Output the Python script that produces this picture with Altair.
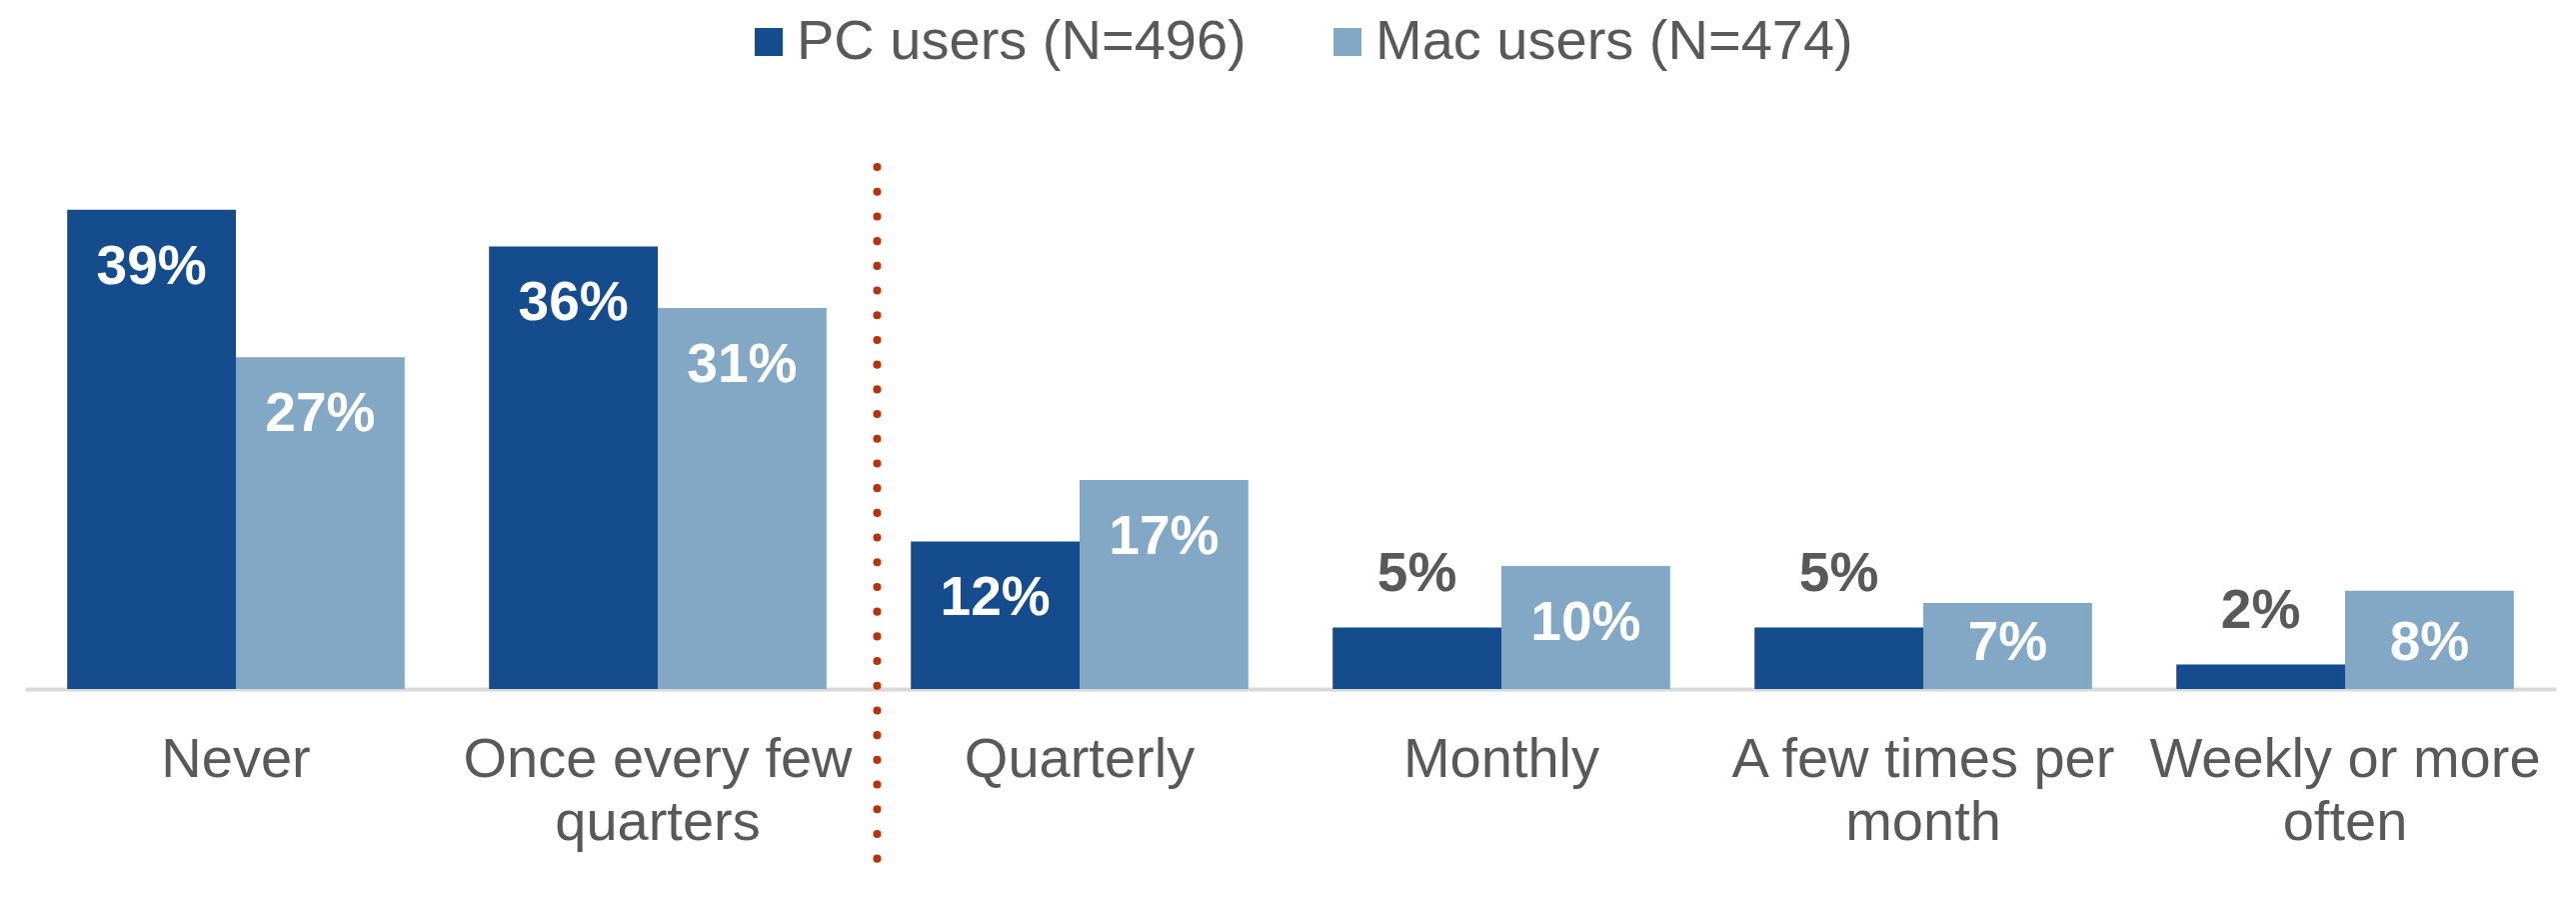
import altair as alt
import pandas as pd

categories = ["Never", "Once every few quarters", "Quarterly", "Monthly",
              "A few times per month", "Weekly or more often"]
tick_lines = [["Never"], ["Once every few", "quarters"], ["Quarterly"], ["Monthly"],
              ["A few times per", "month"], ["Weekly or more", "often"]]
series = ["PC users (N=496)", "Mac users (N=474)"]
pc_values = [39, 36, 12, 5, 5, 2]
mac_values = [27, 31, 17, 10, 7, 8]
divider_position = [2.02]  # in category units

colors = ["#154C8E", "#82A8C6"]
TEXT = "#595959"
FONT = "Liberation Sans"

W, H = 2532, 526
PAD = {"left": 17, "top": 155, "right": 10, "bottom": 190}

rows = []
for c, p, m in zip(categories, pc_values, mac_values):
    rows.append({"cat": c, "series": series[0], "value": p})
    rows.append({"cat": c, "series": series[1], "value": m})
df = pd.DataFrame(rows)

# label expression for wrapped tick labels
expr = "datum.label"
for c, lines in zip(reversed(categories), reversed(tick_lines)):
    arr = "[" + ",".join("'" + s + "'" for s in lines) + "]"
    expr = f"datum.label == '{c}' ? {arr} : ({expr})"

x_enc = alt.X("cat:N", sort=categories, title=None,
              scale=alt.Scale(paddingInner=0.2, paddingOuter=0.1),
              axis=alt.Axis(labelExpr=expr, labelAngle=0, labelFont=FONT, labelFontSize=56,
                            labelColor=TEXT, labelLineHeight=63, labelPadding=43,
                            ticks=False, tickSize=0, domainColor="#D9D9D9", domainWidth=4,
                            labelLimit=1000, labelOverlap=False, grid=False))
xo_enc = alt.XOffset("series:N", sort=series,
                     scale=alt.Scale(paddingInner=0, paddingOuter=0))

bars = alt.Chart(df).mark_bar().encode(
    x=x_enc,
    xOffset=xo_enc,
    y=alt.Y("value:Q", scale=alt.Scale(domain=[0, 42.8], nice=False, zero=True), axis=None),
    color=alt.Color("series:N", sort=series,
                    scale=alt.Scale(domain=series, range=colors),
                    legend=alt.Legend(title=None, orient="none", legendX=716, legendY=-149,
                                      direction="horizontal", symbolType="square",
                                      symbolSize=784, symbolStrokeWidth=0, symbolOpacity=1,
                                      labelFont=FONT, labelFontSize=56, labelColor=TEXT,
                                      labelOffset=0, columnPadding=73, padding=0,
                                      labelLimit=1000)),
)

texts = alt.Chart(df).transform_calculate(
    label="datum.value + '%'",
    label_y="datum.value >= 6 ? max(datum.value - 4.63, 3.75) : datum.value + 4.35",
).mark_text(font=FONT, fontWeight="bold", fontSize=55, baseline="middle", align="center").encode(
    x=x_enc,
    xOffset=xo_enc,
    y=alt.Y("label_y:Q", scale=alt.Scale(domain=[0, 42.8], nice=False, zero=True), axis=None),
    text="label:N",
    color=alt.condition("datum.value >= 6", alt.value("white"), alt.value(TEXT)),
)

rule = alt.Chart(pd.DataFrame({"pos": divider_position})).mark_rule(
    color="#B7320F", strokeWidth=8, strokeDash=[0.1, 24.6], strokeCap="round"
).encode(
    x=alt.X("pos:Q", scale=alt.Scale(domain=[0, len(categories)], nice=False, zero=True), axis=None),
    y=alt.value(4),
    y2=alt.value(H + PAD["bottom"]),
)

chart = alt.layer(alt.layer(bars, texts), rule).resolve_scale(x="independent").properties(
    width=W, height=H,
    autosize=alt.AutoSizeParams(type="none"),
    padding=PAD,
    background="white",
).configure_view(stroke=None, strokeWidth=0)

chart.save("out.html", embed_options={"renderer": "svg", "actions": False})
